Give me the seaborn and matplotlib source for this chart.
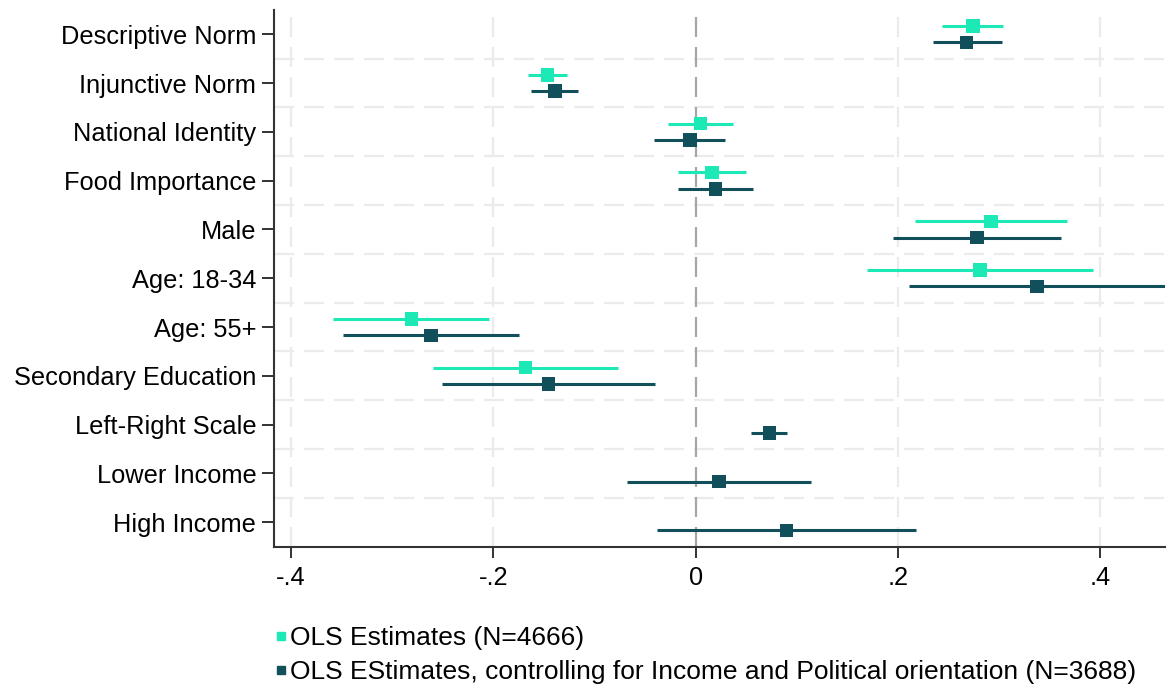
import numpy as np
import pandas as pd
import matplotlib
matplotlib.use("Agg")
import matplotlib.pyplot as plt
import seaborn as sns
from matplotlib.lines import Line2D

categories = ["Descriptive Norm", "Injunctive Norm", "National Identity", "Food Importance",
              "Male", "Age: 18-34", "Age: 55+", "Secondary Education", "Left-Right Scale",
              "Lower Income", "High Income"]

# Series 1: OLS Estimates (N=4666)
est1 = [0.274, -0.1465, 0.0048, 0.016, 0.2918, 0.2813, -0.281, -0.1682, np.nan, np.nan, np.nan]
lo1 = [0.244, -0.166, -0.0269, -0.017, 0.2173, 0.1699, -0.358, -0.2595, np.nan, np.nan, np.nan]
hi1 = [0.304, -0.1267, 0.0367, 0.0499, 0.367, 0.3927, -0.2039, -0.0763, np.nan, np.nan, np.nan]

# Series 2: controlling for income and political orientation (N=3688)
est2 = [0.268, -0.139, -0.0054, 0.0196, 0.2783, 0.3373, -0.2615, -0.1455, 0.073, 0.0232, 0.0898]
lo2 = [0.2345, -0.1623, -0.0407, -0.017, 0.1956, 0.2108, -0.3485, -0.2506, 0.0552, -0.0674, -0.0378]
hi2 = [0.3027, -0.1158, 0.0292, 0.0568, 0.361, 0.4635, -0.1745, -0.040, 0.0908, 0.1142, 0.2177]

series_names = ["OLS Estimates (N=4666)",
                "OLS EStimates, controlling for Income and Political orientation (N=3688)"]
xticks = [-0.4, -0.2, 0, 0.2, 0.4]
xticklabels = ["-.4", "-.2", "0", ".2", ".4"]

colors = ["#1DE9B6", "#11505A"]
offsets = [-0.168, 0.168]

rows = []
for s, (e, l, h) in enumerate([(est1, lo1, hi1), (est2, lo2, hi2)]):
    for i, c in enumerate(categories):
        rows.append(dict(category=c, pos=i + offsets[s], est=e[i], lo=l[i], hi=h[i],
                         series=series_names[s]))
df = pd.DataFrame(rows).dropna()

sns.set_style("white")
plt.rcParams['font.family'] = ['Liberation Sans', 'DejaVu Sans']
plt.rcParams['text.color'] = 'black'
plt.rcParams['xtick.color'] = 'black'
plt.rcParams['ytick.color'] = 'black'

fig = plt.figure(figsize=(11.75, 6.9), dpi=100)
ax = fig.add_axes([0.2335, 0.2077, 0.758, 0.778])

# grid
for xv in xticks:
    if xv != 0:
        ax.axvline(xv, color="#ebebeb", lw=1.6, ls=(0, (9, 4.5)), zorder=0)
for yv in np.arange(0.5, len(categories) - 1, 1.0):
    ax.axhline(yv, color="#ebebeb", lw=1.6, ls=(0, (9, 4.5)), zorder=0)
ax.axvline(0, color="#a6a6a6", lw=1.6, ls=(0, (9, 4.5)), zorder=1)

for s, name in enumerate(series_names):
    d = df[df.series == name]
    ax.hlines(d["pos"], d["lo"], d["hi"], color=colors[s], lw=2.2, zorder=2)

sns.scatterplot(data=df, x="est", y="pos", hue="series", palette=colors,
                hue_order=series_names, marker="s", s=95, edgecolor="none",
                ax=ax, zorder=3, legend=False)

ax.set_xlim(-0.4164, 0.464)
ax.set_ylim(len(categories) - 0.5, -0.5)
ax.set_yticks(range(len(categories)))
ax.set_yticklabels(categories, fontsize=18.3)
ax.set_xticks(xticks)
ax.set_xticklabels(xticklabels, fontsize=18.3)
ax.set_xlabel("")
ax.set_ylabel("")
ax.tick_params(axis="y", length=9, width=1.3, color="#222222", pad=4, left=True)
ax.tick_params(axis="x", length=8, width=1.3, color="#222222", pad=6, bottom=True)

for sp in ["top", "right"]:
    ax.spines[sp].set_visible(False)
for sp in ["left", "bottom"]:
    ax.spines[sp].set_color("#333333")
    ax.spines[sp].set_linewidth(1.5)

handles = [Line2D([], [], marker="s", ls="none", color=colors[i], markersize=6)
           for i in range(2)]
fig.legend(handles, series_names, loc="lower left", bbox_to_anchor=(0.2337, 0.008),
           frameon=False, fontsize=19, handletextpad=0.1, labelspacing=0.38,
           handlelength=0.5, borderpad=0, borderaxespad=0)

fig.savefig("out.png", dpi=100)
